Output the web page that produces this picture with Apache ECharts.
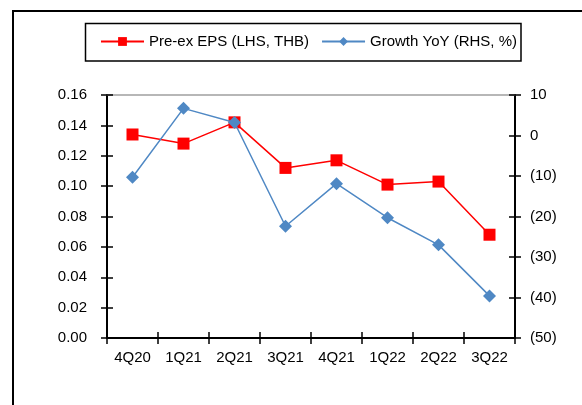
<!DOCTYPE html>
<html><head><meta charset="utf-8">
<script src="https://cdn.jsdelivr.net/npm/echarts@6/dist/echarts.min.js"></script>
<style>html,body{margin:0;padding:0;background:#fff}#c{width:582px;height:405px}</style>
</head><body><div id="c"></div>
<script>
const categories = ['4Q20','1Q21','2Q21','3Q21','4Q21','1Q22','2Q22','3Q22'];
const epsValues = [0.134, 0.128, 0.142, 0.112, 0.117, 0.101, 0.103, 0.068];
const growthValues = [-10.3, 6.7, 3.2, -22.4, -11.9, -20.3, -27.0, -39.6];
const seriesNames = ['Pre-ex EPS (LHS, THB)', 'Growth YoY (RHS, %)'];

const font = 'Liberation Sans, Arial, sans-serif';
const tickStyle = {color: '#000', width: 1.5};
const axisLineStyle = {show: true, onZero: false, lineStyle: {color: '#000', width: 2}};
const chart = echarts.init(document.getElementById('c'));
chart.setOption({
  animation: false,
  textStyle: {fontFamily: font, color: '#000'},
  graphic: [
    {type: 'rect', shape: {x: 13, y: 11, width: 700, height: 600}, style: {fill: 'none', stroke: '#000', lineWidth: 2}, silent: true},
    {type: 'rect', shape: {x: 85.5, y: 23.5, width: 435.5, height: 37.5}, style: {fill: 'none', stroke: '#000', lineWidth: 1.5}, silent: true}
  ],
  legend: {
    left: 100, top: 34, padding: 0, itemWidth: 43, itemHeight: 11, itemGap: 12,
    textStyle: {fontSize: 15, fontFamily: font, color: '#000', padding: [0,0,0,0]},
    data: seriesNames
  },
  grid: {left: 107, right: 67, top: 95, bottom: 67, containLabel: false},
  xAxis: [
    {type: 'category', data: categories, boundaryGap: true,
     axisLine: axisLineStyle,
     axisTick: {show: true, length: 6, lineStyle: tickStyle},
     axisLabel: {fontSize: 15, color: '#000', margin: 12, fontFamily: font},
     splitLine: {show: false}},
    {type: 'category', data: categories, position: 'bottom', boundaryGap: true,
     axisLine: {show: false, onZero: false}, axisTick: {show: true, inside: true, length: 6, lineStyle: tickStyle},
     axisLabel: {show: false}},
    {type: 'category', data: categories, position: 'top',
     axisLine: {show: true, onZero: false, lineStyle: {color: '#a0a0a0', width: 1.5}}, axisTick: {show: false}, axisLabel: {show: false}}
  ],
  yAxis: [
    {type: 'value', min: 0, max: 0.16, interval: 0.02, position: 'left',
     axisLine: axisLineStyle,
     axisTick: {show: true, length: 6, lineStyle: tickStyle},
     axisLabel: {fontSize: 15, color: '#000', margin: 20, fontFamily: font, formatter: v => v.toFixed(2)},
     splitLine: {show: false}},
    {type: 'value', min: -50, max: 10, interval: 10, position: 'right',
     axisLine: axisLineStyle,
     axisTick: {show: true, length: 6, lineStyle: tickStyle},
     axisLabel: {fontSize: 15, color: '#000', margin: 15, fontFamily: font, formatter: v => v < 0 ? '(' + Math.abs(v) + ')' : String(v)},
     splitLine: {show: false}},
    {type: 'value', min: 0, max: 0.16, interval: 0.02, position: 'left',
     axisLine: {show: false, onZero: false}, axisTick: {show: true, inside: true, length: 6, lineStyle: tickStyle},
     axisLabel: {show: false}, splitLine: {show: false}},
    {type: 'value', min: -50, max: 10, interval: 10, position: 'right',
     axisLine: {show: false, onZero: false}, axisTick: {show: true, inside: true, length: 6, lineStyle: tickStyle},
     axisLabel: {show: false}, splitLine: {show: false}}
  ],
  series: [
    {name: seriesNames[0], type: 'line', data: epsValues, xAxisIndex: 0, yAxisIndex: 0,
     symbol: 'rect', symbolSize: 12, color: '#ff0000',
     lineStyle: {color: '#ff0000', width: 1.5}, itemStyle: {color: '#ff0000'}, z: 3},
    {name: seriesNames[1], type: 'line', data: growthValues, xAxisIndex: 0, yAxisIndex: 1,
     symbol: 'diamond', symbolSize: 13, color: '#4f88c4',
     lineStyle: {color: '#4f88c4', width: 1.5}, itemStyle: {color: '#4f88c4'}, z: 4}
  ]
});
</script></body></html>
